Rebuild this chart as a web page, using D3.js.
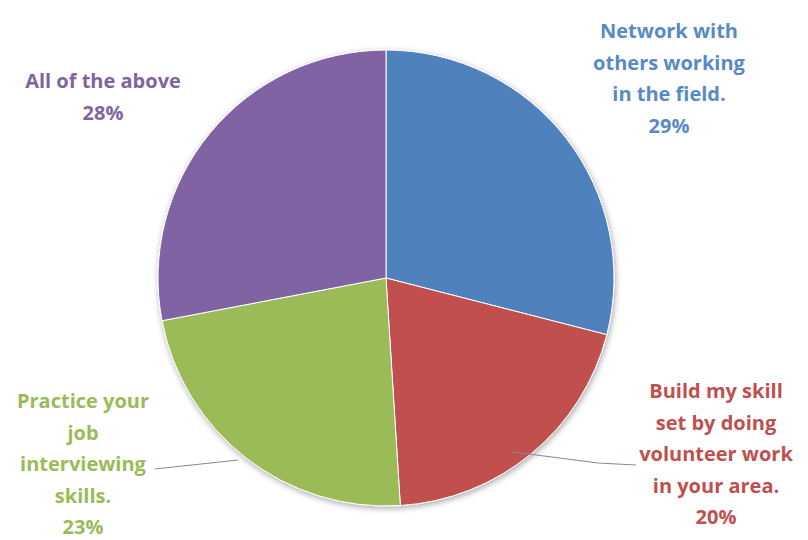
<!DOCTYPE html>
<html><head><meta charset="utf-8">
<script src="https://cdn.jsdelivr.net/npm/d3@7"></script>
<style>body{margin:0;background:#fff}svg{display:block}</style>
</head><body>
<svg id="c" width="808" height="540"></svg>
<script>
const categories = ["Network with others working in the field.", "Build my skill set by doing volunteer work in your area.", "Practice your job interviewing skills.", "All of the above"];
const values = [29, 20, 23, 28];
const labelLines = [
  ["Network with", "others working", "in the field."],
  ["Build my skill", "set by doing", "volunteer work", "in your area."],
  ["Practice your", "job", "interviewing", "skills."],
  ["All of the above"]
];
const sliceColors = ["#4F81BD", "#C0504D", "#9BBB59", "#8064A2"];
const textColors = ["#5A8AC6", "#C0504D", "#9BBB59", "#8064A2"];

// layout
const cx = 386, cy = 278, R = 228;
const labelPos = [[669, 38], [716, 398], [83, 408], [103, 88]];
const lineH = 31.5;
const leaders = [null, [[513, 452], [598, 463], [636, 465]], [[238, 460], [155, 469]], null];

const svg = d3.select("#c");
const defs = svg.append("defs");
const f = defs.append("filter").attr("id","sh").attr("x","-20%").attr("y","-20%").attr("width","140%").attr("height","140%");
f.append("feGaussianBlur").attr("in","SourceAlpha").attr("stdDeviation",3);
f.append("feOffset").attr("dx",1).attr("dy",2).attr("result","b");
f.append("feComponentTransfer").append("feFuncA").attr("type","linear").attr("slope",0.35);
const m = f.append("feMerge"); m.append("feMergeNode"); m.append("feMergeNode").attr("in","SourceGraphic");

const pie = d3.pie().sort(null).value(d => d)(values);
const arc = d3.arc().innerRadius(0).outerRadius(R);
const g = svg.append("g").attr("transform", `translate(${cx},${cy})`).attr("filter","url(#sh)");
g.selectAll("path").data(pie).join("path")
  .attr("d", arc).attr("fill", (d,i) => sliceColors[i])
  .attr("stroke", "#fff").attr("stroke-width", 1);

leaders.forEach(l => {
  if (!l) return;
  svg.append("path").attr("d", d3.line()(l)).attr("fill","none").attr("stroke","#8a8a8a").attr("stroke-width",1.2);
});

const fmt = d3.format(".0%");
labelLines.forEach((lines, i) => {
  const all = lines.concat([fmt(values[i]/100)]);
  const t = svg.append("text").attr("text-anchor","middle")
    .attr("font-family","'Open Sans', Lato, sans-serif").attr("font-weight","bold")
    .attr("font-size", 20).attr("fill", textColors[i]);
  all.forEach((s, j) => t.append("tspan").attr("x", labelPos[i][0]).attr("y", labelPos[i][1] + j*lineH).text(s));
});
</script>
</body></html>
